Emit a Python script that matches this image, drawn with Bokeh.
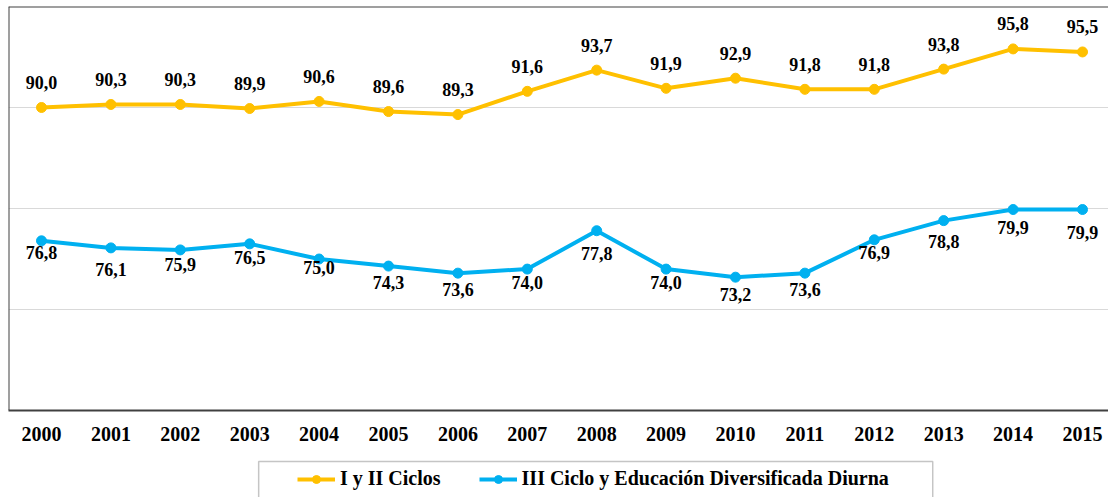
from bokeh.plotting import figure
from bokeh.layouts import column
from bokeh.models import Span, Legend, LegendItem, FixedTicker, ColumnDataSource, BoxAnnotation
from bokeh.embed import file_html
from bokeh.resources import INLINE

# ---- data ----
years = list(range(2000, 2016))
year_labels = [str(y) for y in years]
ciclos_1_2 = [90.0, 90.3, 90.3, 89.9, 90.6, 89.6, 89.3, 91.6, 93.7, 91.9, 92.9, 91.8, 91.8, 93.8, 95.8, 95.5]
ciclo_3_div = [76.8, 76.1, 75.9, 76.5, 75.0, 74.3, 73.6, 74.0, 77.8, 74.0, 73.2, 73.6, 76.9, 78.8, 79.9, 79.9]
series_names = ["I y II Ciclos", "III Ciclo y Educación Diversificada Diurna"]

# label pixel offsets (layout only)
blue_label_dy = [12, 22, 15, 14, 8, 16, 16, 13, 23, 13, 17, 16, 13, 21, 18, 23]

YELLOW = "#FFC000"
BLUE = "#00B0F0"
BORDER = "#404040"
FONT = "Liberation Serif"

def fmt(v):
    return f"{v:.1f}".replace(".", ",")

src1 = ColumnDataSource(dict(x=years, y=ciclos_1_2, lbl=[fmt(v) for v in ciclos_1_2]))
src2 = ColumnDataSource(dict(x=years, y=ciclo_3_div, lbl=[fmt(v) for v in ciclo_3_div], dy=blue_label_dy))

px_per_year = 69.4
x_start = 2000 - 33 / px_per_year
x_end = x_start + 1100 / px_per_year
p = figure(frame_width=1100, frame_height=404, x_range=(x_start, x_end), y_range=(60, 100),
           output_backend="svg", toolbar_location=None,
           min_border_left=8, min_border_right=0, min_border_top=6, min_border_bottom=42)
p.outline_line_color = None
p.background_fill_color = "white"
p.border_fill_color = "white"

p.yaxis.visible = False
p.xgrid.visible = False
p.ygrid.ticker = FixedTicker(ticks=[70, 80, 90])
p.ygrid.grid_line_color = "#d9d9d9"
p.ygrid.grid_line_width = 1

xa = p.xaxis[0]
xa.ticker = FixedTicker(ticks=years)
xa.major_label_overrides = {y: lab for y, lab in zip(years, year_labels)}
xa.major_tick_line_color = None
xa.minor_tick_line_color = None
xa.axis_line_color = BORDER
xa.axis_line_width = 2
xa.major_label_text_font = FONT
xa.major_label_text_font_style = "bold"
xa.major_label_text_font_size = "20px"
xa.major_label_text_color = "black"
xa.major_label_standoff = 10

p.add_layout(Span(location=x_start, dimension="height", line_color=BORDER, line_width=2))
p.add_layout(Span(location=100, dimension="width", line_color=BORDER, line_width=2))

l1 = p.line("x", "y", source=src1, line_color=YELLOW, line_width=4)
c1 = p.scatter("x", "y", source=src1, size=10, fill_color=YELLOW, line_color=YELLOW)
l2 = p.line("x", "y", source=src2, line_color=BLUE, line_width=4)
c2 = p.scatter("x", "y", source=src2, size=10, fill_color=BLUE, line_color=BLUE)

p.text("x", "y", text="lbl", source=src1, y_offset=-25, text_align="center",
       text_baseline="middle", text_font=FONT, text_font_style="bold",
       text_font_size="18px", text_color="black")
p.text("x", "y", text="lbl", source=src2, y_offset="dy", text_align="center",
       text_baseline="middle", text_font=FONT, text_font_style="bold",
       text_font_size="18px", text_color="black")

# ---- legend strip below the chart ----
lg = figure(width=1100, height=45, x_range=(0, 1100), y_range=(0, 45),
            output_backend="svg", toolbar_location=None,
            min_border_left=0, min_border_right=0, min_border_top=0, min_border_bottom=0)
lg.outline_line_color = None
lg.axis.visible = False
lg.grid.visible = False
off = dict(x=[-50, -40], y=[-50, -50])  # legend swatch renderers, kept off-screen
g1 = lg.line("x", "y", source=ColumnDataSource(off), line_color=YELLOW, line_width=4)
s1 = lg.scatter("x", "y", source=ColumnDataSource(off), size=9, fill_color=YELLOW, line_color=YELLOW)
g2 = lg.line("x", "y", source=ColumnDataSource(off), line_color=BLUE, line_width=4)
s2 = lg.scatter("x", "y", source=ColumnDataSource(off), size=9, fill_color=BLUE, line_color=BLUE)

lg.add_layout(BoxAnnotation(left=252, right=931, top=36, bottom=-10,
                            fill_color=None, fill_alpha=0,
                            line_color=BORDER, line_width=1.5))

legend = Legend(items=[LegendItem(label=series_names[0], renderers=[g1, s1]),
                       LegendItem(label=series_names[1], renderers=[g2, s2])],
                orientation="horizontal", location=(289, 7))
legend.border_line_color = None
legend.background_fill_alpha = 0
legend.label_text_font = FONT
legend.label_text_font_style = "bold"
legend.label_text_font_size = "20px"
legend.label_text_color = "black"
legend.glyph_width = 38
legend.glyph_height = 20
legend.label_height = 20
legend.label_standoff = 5
legend.spacing = 38
legend.padding = 0
legend.margin = 0
lg.add_layout(legend, "center")

layout = column(p, lg, spacing=0)
open("out.html", "w").write(file_html(layout, INLINE))
